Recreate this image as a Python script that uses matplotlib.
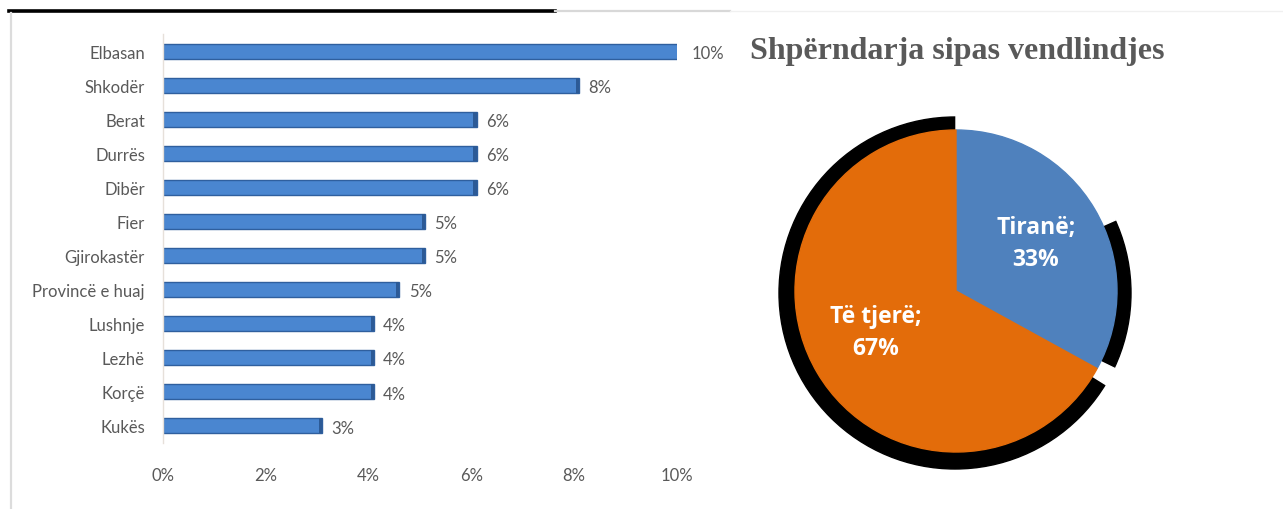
import matplotlib.pyplot as plt
from matplotlib.patches import Circle, Wedge
from matplotlib.lines import Line2D

# data
cities = ['Elbasan', 'Shkodër', 'Berat', 'Durrës', 'Dibër', 'Fier', 'Gjirokastër',
          'Provincë e huaj', 'Lushnje', 'Lezhë', 'Korçë', 'Kukës']
shares = [10.1, 8.1, 6.1, 6.1, 6.1, 5.1, 5.1, 4.6, 4.1, 4.1, 4.1, 3.1]
share_labels = ['10%', '8%', '6%', '6%', '6%', '5%', '5%', '5%', '4%', '4%', '4%', '3%']
x_ticks = [0, 2, 4, 6, 8, 10]
x_ticklabels = ['0%', '2%', '4%', '6%', '8%', '10%']

pie_title = 'Shpërndarja sipas vendlindjes'
pie_names = ['Tiranë', 'Të tjerë']
pie_values = [33, 67]
pie_colors = ['#4f81bd', '#e36c0a']

W, H = 1283, 510
fig = plt.figure(figsize=(W / 100, H / 100), dpi=100)
fig.patch.set_facecolor('white')

# frame lines from the original screenshot
fig.add_artist(Line2D([9 / W, 555 / W], [1 - 11.5 / H] * 2, color='black', lw=2.6))
fig.add_artist(Line2D([555 / W, 730 / W], [1 - 12 / H] * 2, color='#d8d8d8', lw=1.6))
fig.add_artist(Line2D([730 / W, 1283 / W], [1 - 12 / H] * 2, color='#f0f0f0', lw=1))
fig.add_artist(Line2D([11 / W, 11 / W], [1 - 14 / H, 0], color='#dcdcdc', lw=1.6))

# bar chart
text_col = '#595959'
ax = fig.add_axes([163 / W, 1 - 444 / H, (677 - 163) / W, (444 - 35) / H])
y = list(range(len(cities)))
ax.barh(y, shares, height=0.44, color='#4a86d0', edgecolor='#2f5f9e', linewidth=1.0)
# darker end caps for the 3d look
ax.barh(y, [0.06] * len(y), left=[v - 0.06 for v in shares], height=0.44,
        color='#2c5a96', linewidth=0)
for yi, v, lab in zip(y, shares, share_labels):
    ax.text(v + 0.18, yi + 0.05, lab, va='center', ha='left', fontsize=12,
            color=text_col, family='Lato')
ax.set_ylim(len(cities) - 0.5, -0.5)
ax.set_xlim(0, 10)
ax.set_yticks(y)
ax.set_yticklabels(cities, fontsize=12, color=text_col, family='Lato')
ax.set_xticks(x_ticks)
ax.set_xticklabels(x_ticklabels, fontsize=12, color=text_col, family='Lato')
ax.tick_params(axis='x', length=0, pad=17)
ax.tick_params(axis='y', length=0, pad=13)
for s in ['top', 'right', 'bottom']:
    ax.spines[s].set_visible(False)
ax.spines['left'].set_color('#e6e0da')
ax.spines['left'].set_linewidth(1)

# pie chart
fig.text(750 / W, 1 - 52 / H, pie_title, fontsize=23, fontweight='bold',
         color=text_col, family='Liberation Serif', va='center', ha='left')

cx, cy, r = 956, 292, 161
ax2 = fig.add_axes([(cx - 250) / W, 0, 500 / W, 1])
ax2.set_xlim(cx - 250, cx + 250)
ax2.set_ylim(-H, 0)
ax2.axis('off')

# black shadow behind the pie
ax2.add_patch(Circle((cx - 1, -cy - 2), r + 15, color='black', zorder=1))
ax2.add_patch(Wedge((cx, -cy), r + 40, 24, 90, color='white', zorder=2))
ax2.add_patch(Wedge((cx, -cy), r + 40, -32, -26, color='white', zorder=2))

start = 90
total = sum(pie_values)
for v, c in zip(pie_values, pie_colors):
    span = 360 * v / total
    ax2.add_patch(Wedge((cx, -cy), r, start - span, start, color=c, zorder=3))
    start -= span

ax2.text(1036, -244, f'{pie_names[0]};\n{pie_values[0]}%', color='white', fontsize=16.5,
         fontweight='bold', family='Open Sans', ha='center', va='center',
         linespacing=1.45, zorder=4)
ax2.text(876, -333, f'{pie_names[1]};\n{pie_values[1]}%', color='white', fontsize=16.5,
         fontweight='bold', family='Open Sans', ha='center', va='center',
         linespacing=1.45, zorder=4)

fig.savefig('out.png', dpi=100)
